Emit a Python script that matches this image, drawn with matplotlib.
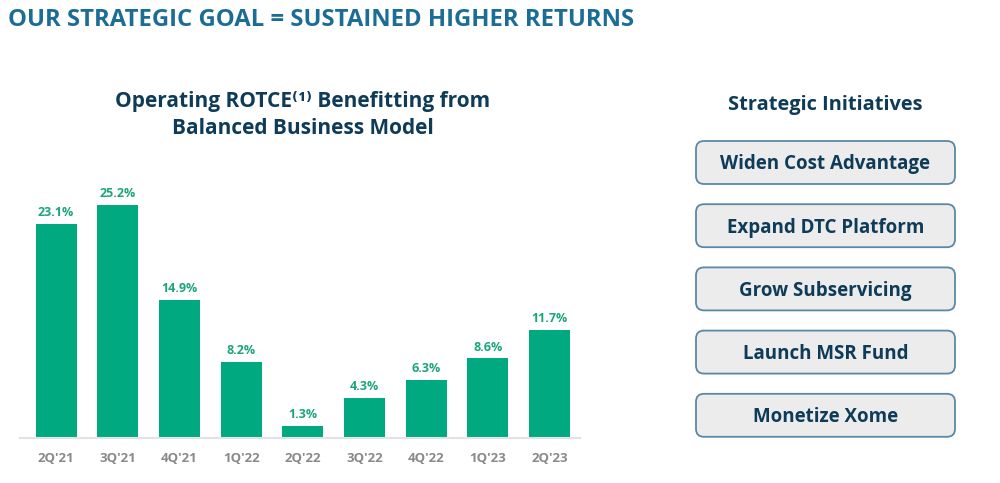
import matplotlib
matplotlib.use("Agg")
import matplotlib.pyplot as plt
from matplotlib.patches import FancyBboxPatch

categories = ["2Q'21", "3Q'21", "4Q'21", "1Q'22", "2Q'22", "3Q'22", "4Q'22", "1Q'23", "2Q'23"]
rotce = [23.1, 25.2, 14.9, 8.2, 1.3, 4.3, 6.3, 8.6, 11.7]
initiatives = ["Widen Cost Advantage", "Expand DTC Platform", "Grow Subservicing",
               "Launch MSR Fund", "Monetize Xome"]

FONT = ["Open Sans", "DejaVu Sans"]
plt.rcParams['font.family'] = FONT

W, H = 1000, 483
fig = plt.figure(figsize=(W / 100, H / 100), dpi=100)

def fx(px):
    return px / W

def fy(py):
    return 1 - py / H

GREEN = "#00a97f"
LABEL_GREEN = "#1aa57c"
NAVY = "#0e3b57"
HEADER = "#1b6d96"
GRAY = "#8a8a8a"

# header
fig.text(fx(8), fy(20), "OUR STRATEGIC GOAL = SUSTAINED HIGHER RETURNS",
         fontsize=17.2, fontweight="bold", color=HEADER, ha="left", va="center")

# chart title
fig.text(fx(303), fy(102), "Operating ROTCE\u207d\u00b9\u207e Benefitting from",
         fontsize=15, fontweight="bold", color=NAVY, ha="center", va="center")
fig.text(fx(303), fy(128), "Balanced Business Model",
         fontsize=15, fontweight="bold", color=NAVY, ha="center", va="center")

# bar chart axes
ax_left, ax_right = 20, 580
ax_bottom, ax_top = 438, 190
ax = fig.add_axes([fx(ax_left), fy(ax_bottom), (ax_right - ax_left) / W, (ax_bottom - ax_top) / H])
x = list(range(len(categories)))
bars = ax.bar(x, rotce, width=0.665, color=GREEN, zorder=2)
ax.set_xlim(-0.584, 8.494)
ax.set_ylim(0, 26.8)
for xi, v in zip(x, rotce):
    ax.annotate(f"{v:.1f}%", (xi, v), xytext=(0, 3.5), textcoords="offset points",
                ha="center", va="bottom", fontsize=9, fontweight="bold", color=LABEL_GREEN)
ax.set_xticks(x)
ax.set_xticklabels(categories, fontsize=9.5, fontweight="bold", color=GRAY)
ax.tick_params(axis="x", length=0, pad=10)
ax.set_yticks([])
for s in ["top", "right", "left"]:
    ax.spines[s].set_visible(False)
ax.spines["bottom"].set_color("#e3e3e3")
ax.spines["bottom"].set_linewidth(1.5)
ax.patch.set_alpha(0)

# right panel
fig.text(fx(825), fy(105), "Strategic Initiatives",
         fontsize=14.4, fontweight="bold", color=NAVY, ha="center", va="center")
box_left, box_right = 696, 955
box_h = 43
first_top = 141
step = 63.2
for i, label in enumerate(initiatives):
    top = first_top + i * step
    bb = FancyBboxPatch((fx(box_left), fy(top + box_h)),
                        (box_right - box_left) / W, box_h / H,
                        boxstyle="round,pad=0,rounding_size=0.008",
                        transform=fig.transFigure, facecolor="#ececec",
                        edgecolor="#5b88a6", linewidth=1.3, mutation_aspect=W / H)
    fig.patches.append(bb)
    fig.text(fx((box_left + box_right) / 2), fy(top + box_h / 2 + 2), label,
             fontsize=13.5, fontweight="bold", color=NAVY, ha="center", va="center")

fig.savefig("out.png", dpi=100, facecolor="white")
